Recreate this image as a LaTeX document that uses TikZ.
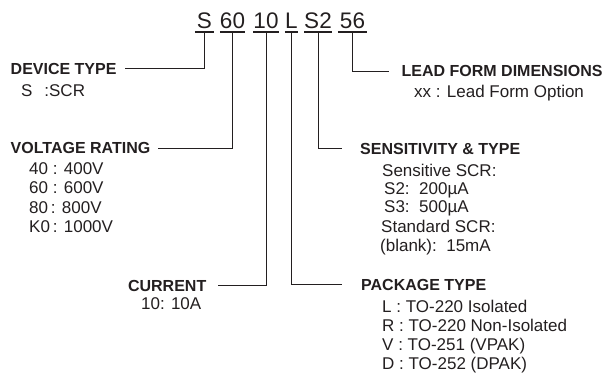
\documentclass[tikz,border=0pt]{standalone}
\usepackage{fontspec}
\setmainfont{Liberation Sans}
\usetikzlibrary{positioning, calc}
\definecolor{cInk}{RGB}{35,31,32}
\tikzset{
	seg/.style ={anchor=south, inner xsep=0pt, inner ysep=3.5pt, font=\fontsize{22.5}{26}\selectfont, text=cInk},
	hdr/.style ={inner sep=0pt, anchor=base west, font=\fontsize{16}{19}\selectfont\bfseries, text=cInk},
	val/.style ={inner sep=0pt, anchor=base west, font=\fontsize{17}{20}\selectfont, text=cInk},
	uline/.style={draw=cInk, line width=1.3pt},
	conn/.style ={draw=cInk, line width=0.9pt},
}
\begin{document}
\begin{tikzpicture}[x=1pt, y=-1pt]
	\useasboundingbox (0,0) rectangle (607,372);
	% part number
	\node[seg, minimum width=19pt] (segS)  at (204.5,32) {S};
	\node[seg, minimum width=25pt] (seg60) at (232.5,32) {60};
	\node[seg, minimum width=24pt] (seg10) at (266,32) {10};
	\node[seg, minimum width=13pt] (segL)  at (291.5,32) {L};
	\node[seg, minimum width=27pt] (segS2) at (318,32) {S2};
	\node[seg, minimum width=29pt] (seg56) at (352.5,32) {56};
	\foreach \s in {segS,seg60,seg10,segL,segS2,seg56}
		\draw[uline] (\s.south west) -- (\s.south east);
	% device type
	\node[hdr] (devtype) at (10.5,74.2) {DEVICE TYPE};
	\node[val] (devS) at (21,96) {S\hspace{0.7em}:SCR};
	% voltage rating
	\node[hdr] (volt) at (10.5,153.7) {VOLTAGE RATING};
	\node[val] (volt40) at (29,174) {40 : 400V};
	\node[val] (volt60) at (29,193.5) {60 : 600V};
	\node[val] (volt80) at (29,213) {80\,: 800V};
	\node[val] (voltK0) at (29,232.5) {K0\,: 1000V};
	% current
	\node[hdr, anchor=base east] (curr) at (206.5,291.2) {CURRENT};
	\node[val, anchor=base east] (curr10) at (201.5,309) {10: 10A};
	% package type
	\node[hdr] (pkg) at (361,290.2) {PACKAGE TYPE};
	\node[val] (pkgL) at (382,312) {L : TO-220 Isolated};
	\node[val] (pkgR) at (382,331) {R : TO-220 Non-Isolated};
	\node[val] (pkgV) at (382,350) {V : TO-251 (VPAK)};
	\node[val] (pkgD) at (382,369) {D : TO-252 (DPAK)};
	% sensitivity & type
	\node[hdr] (sens) at (360,154.2) {SENSITIVITY \& TYPE};
	\node[val] (sensSens)  at (382,176) {Sensitive SCR:};
	\node[val] (sensS2)    at (384,194) {S2:\ \ 200µA};
	\node[val] (sensS3)    at (384,212) {S3:\ \ 500µA};
	\node[val] (sensStd)   at (381,232) {Standard SCR:};
	\node[val] (sensBlank) at (380,251) {(blank):\ \ 15mA};
	% lead form
	\node[hdr] (leadform) at (401.5,76.7) {LEAD FORM DIMENSIONS};
	\node[val] (leadxx) at (414,97) {xx : Lead Form Option};
	% connectors
	\draw[conn] (segS.south)  |- ([xshift=8pt]devtype.east);
	\draw[conn] (seg60.south) |- ([xshift=8pt]volt.east);
	\draw[conn] (seg10.south) |- ([xshift=11pt]curr.east);
	\draw[conn] (segL.south)  |- ([xshift=-19pt]pkg.west);
	\draw[conn] (segS2.south) |- ([xshift=-18pt]sens.west);
	\draw[conn] (seg56.south) |- ([xshift=-13pt]leadform.west);
\end{tikzpicture}
\end{document}
